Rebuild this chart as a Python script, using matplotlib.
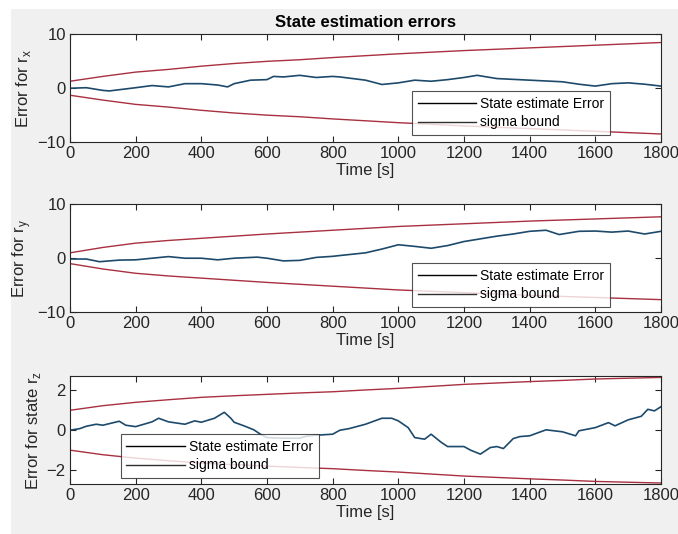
import matplotlib
matplotlib.use("Agg")
import matplotlib.pyplot as plt
from matplotlib.lines import Line2D
from matplotlib.patches import Rectangle
import numpy as np

plt.rcParams['font.family'] = ['Liberation Sans', 'DejaVu Sans']
plt.rcParams['mathtext.fontset'] = 'custom'
plt.rcParams['mathtext.rm'] = 'Liberation Sans'

# sigma bounds, sampled every 100 s
bound_t = [0, 100, 200, 300, 400, 500, 600, 700, 800, 900,
           1000, 1100, 1200, 1300, 1400, 1500, 1600, 1700, 1800]
rx_bound = [1.3, 2.2, 3.0, 3.5, 4.1, 4.6, 5.0, 5.3, 5.7, 6.05,
            6.4, 6.7, 7.0, 7.25, 7.5, 7.75, 8.0, 8.25, 8.5]
ry_bound = [1.0, 2.0, 2.8, 3.3, 3.7, 4.1, 4.5, 4.85, 5.2, 5.55,
            5.9, 6.15, 6.4, 6.65, 6.9, 7.1, 7.3, 7.5, 7.7]
rz_bound = [1.0, 1.23, 1.4, 1.53, 1.65, 1.73, 1.8, 1.87, 1.93, 2.02,
            2.1, 2.2, 2.3, 2.37, 2.44, 2.5, 2.57, 2.61, 2.65]

# state estimate errors
rx_t = [0, 50, 100, 120, 200, 250, 300, 350, 400, 450, 480, 500, 550, 600, 620,
        650, 700, 750, 800, 822, 900, 950, 1000, 1050, 1100, 1150, 1200, 1240,
        1300, 1400, 1500, 1550, 1600, 1650, 1700, 1750, 1800]
rx_err = [0, 0.1, -0.4, -0.5, 0.1, 0.5, 0.25, 0.85, 0.85, 0.6, 0.25, 0.85, 1.5, 1.6, 2.2,
          2.1, 2.4, 2.0, 2.2, 2.1, 1.5, 0.7, 1.0, 1.5, 1.3, 1.6, 2.0, 2.4,
          1.8, 1.5, 1.2, 0.75, 0.4, 0.85, 1.0, 0.75, 0.4]

ry_t = [0, 50, 90, 150, 200, 250, 300, 350, 400, 450, 500, 570, 600, 650, 700,
        750, 800, 822, 900, 950, 1000, 1050, 1100, 1150, 1200, 1250, 1300, 1350,
        1400, 1450, 1490, 1550, 1600, 1650, 1700, 1750, 1800]
ry_err = [-0.15, -0.15, -0.65, -0.35, -0.3, 0, 0.3, 0, 0, -0.3, 0, 0.2, 0, -0.5, -0.4,
          0.15, 0.35, 0.5, 1.0, 1.7, 2.5, 2.2, 1.85, 2.35, 3.1, 3.6, 4.1, 4.5,
          5.0, 5.2, 4.4, 5.0, 5.05, 4.85, 5.05, 4.5, 5.0]

rz_t = [0, 30, 50, 80, 100, 150, 170, 200, 250, 270, 300, 350, 380, 400, 440,
        470, 490, 500, 530, 560, 580, 600, 650, 700, 720, 750, 800, 822, 850, 900,
        950, 980, 1000, 1030, 1050, 1080, 1100, 1130, 1150, 1200, 1220, 1250, 1280,
        1300, 1320, 1350, 1370, 1400, 1450, 1500, 1540, 1550, 1600, 1640, 1660,
        1700, 1740, 1760, 1780, 1800]
rz_err = [0, 0.08, 0.2, 0.3, 0.25, 0.45, 0.25, 0.18, 0.42, 0.6, 0.42, 0.3, 0.47, 0.4, 0.6,
          0.9, 0.6, 0.4, 0.22, 0.02, -0.2, -0.37, -0.4, -0.4, -0.3, -0.25, -0.2, 0, 0.08, 0.3,
          0.6, 0.6, 0.47, 0.13, -0.37, -0.45, -0.2, -0.6, -0.82, -0.82, -1.0, -1.2, -0.87,
          -0.82, -0.92, -0.42, -0.32, -0.28, 0.02, -0.08, -0.28, -0.03, 0.13, 0.38, 0.22,
          0.52, 0.7, 1.05, 0.97, 1.18]

xticks = np.arange(0, 1801, 200)
err_color = '#1d4a6b'
bound_color = '#a83040'
gray = '#f0f0f0'

fig = plt.figure(figsize=(6.78, 5.34), dpi=100, facecolor='white')
fig.patches.append(Rectangle((11 / 678, 0), 1 - 11 / 678, (534 - 9) / 534,
                             transform=fig.transFigure, facecolor=gray,
                             edgecolor='none', zorder=-10))

panels = [
    (0.734, rx_t, rx_err, rx_bound, (-10, 10), [-10, 0, 10],
     'Error for r$_\\mathregular{x}$', 'lower right', (0.914, 0.065)),
    (0.4157, ry_t, ry_err, ry_bound, (-10, 10), [-10, 0, 10],
     'Error for r$_\\mathregular{y}$', 'lower right', (0.914, 0.047)),
    (0.0936, rz_t, rz_err, rz_bound, (-2.7, 2.7), [-2, 0, 2],
     'Error for state r$_\\mathregular{z}$', 'lower left', (0.086, 0.056)),
]

for i, (bottom, t, err, bnd, ylim, yticks, ylab, loc, anchor) in enumerate(panels):
    ax = fig.add_axes([0.1032, bottom, 0.8717, 0.2015])
    ax.set_facecolor('white')
    ax.plot(bound_t, bnd, color=bound_color, lw=1.0)
    ax.plot(bound_t, [-b for b in bnd], color=bound_color, lw=1.0)
    ax.plot(t, err, color=err_color, lw=1.2)
    ax.set_xlim(0, 1800)
    ax.set_ylim(*ylim)
    ax.set_xticks(xticks)
    ax.set_yticks(yticks)
    ax.tick_params(direction='in', top=True, right=True, length=4,
                   labelsize=12, color='#262626', labelcolor='#262626', pad=3)
    for s in ax.spines.values():
        s.set_color('#262626')
        s.set_linewidth(0.8)
    ax.set_xlabel('Time [s]', fontsize=12, color='#262626', labelpad=1)
    ax.set_ylabel(ylab, fontsize=12, color='#262626', labelpad=3)
    if i == 0:
        ax.set_title('State estimation errors', fontsize=12, fontweight='bold', pad=5)
    handles = [Line2D([], [], color='black', lw=1),
               Line2D([], [], color='#303030', lw=1)]
    leg = ax.legend(handles, ['State estimate Error', 'sigma bound'], loc=loc,
                    bbox_to_anchor=anchor, fontsize=10, frameon=True, fancybox=False,
                    handlelength=4.2, handletextpad=0.3, borderpad=0.4,
                    labelspacing=0.35, borderaxespad=0)
    leg.get_frame().set_edgecolor('#262626')
    leg.get_frame().set_linewidth(0.8)

fig.savefig('out.png', dpi=100, facecolor=fig.get_facecolor())
